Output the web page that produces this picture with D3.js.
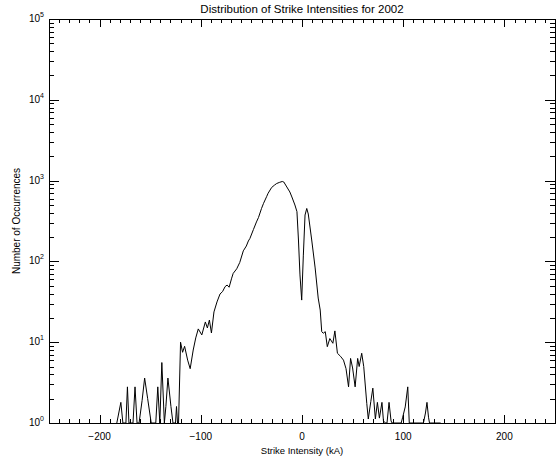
<!DOCTYPE html>
<html>
<head>
<meta charset="utf-8">
<script src="https://cdn.jsdelivr.net/npm/d3@7.9.0/dist/d3.min.js"></script>
<style>
  body { margin: 0; background: #fff; }
  svg { display: block; }
  text { font-family: "Liberation Sans", Arial, sans-serif; fill: #000; }
</style>
</head>
<body>
<svg width="560" height="458"></svg>
<script>
const title = 'Distribution of Strike Intensities for 2002';
const xLabel = 'Strike Intensity (kA)';
const yLabel = 'Number of Occurrences';

const xDomain = [-250, 250];
const yDomain = [1, 1e5];
const xTicks = [-200, -100, 0, 100, 200];
const yExponents = [0, 1, 2, 3, 4, 5];

// histogram (kA, count); zero bins sit on the axis at 1
const intensity = [
  -183, -179, -177, -174, -172.5, -171, -167, -165, -163, -161,
  -158, -155.5, -152.5, -149, -144.5, -142.5, -140.5, -138.5, -136, -134.5,
  -132.5, -129.5, -127.5, -125, -124, -123, -122, -120, -118, -116,
  -113, -110.5, -107.5, -105, -102.5, -99, -95.5, -93.5, -91.5, -89.5,
  -87, -84, -81, -78.5, -76, -74, -72, -69.5, -68, -64.5,
  -61.5, -58, -55, -53, -51.5, -48, -45, -43, -40, -38,
  -35, -33.5, -30, -27, -25, -22, -19.5, -18, -15, -12,
  -10, -7, -5, -3.5, -2, -0.3, 1.3, 3, 4.7, 6.2,
  9.6, 13, 16, 18, 19.5, 21, 23, 25, 27.5, 30.5,
  32.5, 35, 38, 41, 43.5, 46, 48, 50, 52.5, 55,
  56.5, 59, 61, 64, 65.5, 68, 70, 72.5, 74.5, 76.5,
  79, 80.5, 82.5, 84, 86, 88, 89, 98, 99.5, 102,
  104.5, 106, 120, 122, 123.5, 125, 126, 137
];
const occurrences = [
  1, 1.8, 1, 1, 2.8, 1, 1, 2.8, 1, 1,
  1.9, 3.6, 2, 1, 1, 2.8, 1, 5.6, 1, 1.6,
  3.6, 1.6, 1, 1, 1.6, 1, 1, 10, 7.5, 8.9,
  6, 4.7, 8, 11.3, 14.6, 12.3, 17.8, 15, 18.8, 13,
  23.7, 31.5, 39.5, 42.3, 48.7, 51, 47.9, 62, 71, 81,
  97, 135, 155, 179, 192, 248, 308, 349, 452, 523,
  632, 697, 822, 883, 921, 953, 975, 961, 834, 723,
  627, 499, 413, 184, 68, 33.2, 117, 375, 452, 386,
  184, 83, 35.2, 25, 13.5, 12.9, 13.5, 8.8, 11.1, 9.7,
  13.8, 7.3, 6.7, 6, 4.7, 2.8, 6.3, 4.8, 2.8, 6.3,
  5, 7.3, 5, 1.75, 1.12, 1.85, 2.7, 1.12, 1.8, 1.15,
  1.8, 1.06, 1, 1, 1.8, 1.06, 1, 1, 1.18, 1.58,
  2.8, 1, 1, 1.33, 1.8, 1.18, 1, 1
];

const width = 560, height = 458;
const margin = { top: 19, right: 5, bottom: 35, left: 49 };
const innerW = width - margin.left - margin.right;
const innerH = height - margin.top - margin.bottom;

const svg = d3.select('svg');
const g = svg.append('g').attr('transform', `translate(${margin.left},${margin.top})`);

const x = d3.scaleLinear().domain(xDomain).range([0, innerW]);
const y = d3.scaleLog().domain(yDomain).range([innerH, 0]);

// frame
g.append('rect')
  .attr('x', 0.5).attr('y', 0.5)
  .attr('width', innerW).attr('height', innerH)
  .attr('fill', 'none').attr('stroke', '#000').attr('stroke-width', 1);

// ticks on all four sides, pointing inward
const xMinor = d3.range(xDomain[0] + 10, xDomain[1], 10).filter(v => !xTicks.includes(v));
const yMinor = [];
yExponents.slice(0, -1).forEach(e => {
  for (let m = 2; m <= 9; m++) yMinor.push(m * Math.pow(10, e));
});
const yMajor = yExponents.map(e => Math.pow(10, e));

const xTickLen = 8, yTickLen = 10;

function xTick(v, len) {
  const px = Math.round(x(v)) + 0.5;
  g.append('line').attr('x1', px).attr('x2', px).attr('y1', innerH).attr('y2', innerH - len)
    .attr('stroke', '#000');
  g.append('line').attr('x1', px).attr('x2', px).attr('y1', 0).attr('y2', len)
    .attr('stroke', '#000');
}
xMinor.forEach(v => xTick(v, xTickLen / 2));
xTicks.forEach(v => xTick(v, xTickLen));

function yTick(v, len) {
  const py = Math.round(y(v)) + 0.5;
  g.append('line').attr('x1', 0).attr('x2', len).attr('y1', py).attr('y2', py)
    .attr('stroke', '#000');
  g.append('line').attr('x1', innerW).attr('x2', innerW - len).attr('y1', py).attr('y2', py)
    .attr('stroke', '#000');
}
yMinor.forEach(v => yTick(v, yTickLen / 2));
yMajor.forEach(v => yTick(v, yTickLen));

// x tick labels
g.selectAll('.xlab')
  .data(xTicks)
  .join('text')
  .attr('class', 'xlab')
  .attr('x', d => x(d))
  .attr('y', innerH + 17)
  .attr('text-anchor', 'middle')
  .attr('font-size', 10)
  .text(d => d === 0 ? '0' : (d < 0 ? '\u2212' + Math.abs(d) : d));

// y tick labels: 10 with superscript exponent
yExponents.forEach(e => {
  const t = g.append('text')
    .attr('x', -5)
    .attr('y', y(Math.pow(10, e)) + 3)
    .attr('text-anchor', 'end')
    .attr('font-size', 10);
  t.append('tspan').text('10');
  t.append('tspan').attr('dy', -5).attr('font-size', 7).text(e);
});

// data line
const line = d3.line()
  .x((d, i) => x(intensity[i]))
  .y(d => y(d));

g.append('path')
  .datum(occurrences)
  .attr('d', line)
  .attr('fill', 'none')
  .attr('stroke', '#000')
  .attr('stroke-width', 1);

// titles
svg.append('text')
  .attr('x', margin.left + innerW / 2)
  .attr('y', 13)
  .attr('text-anchor', 'middle')
  .attr('font-size', 11.5)
  .text(title);

svg.append('text')
  .attr('x', margin.left + innerW / 2)
  .attr('y', height - 4)
  .attr('text-anchor', 'middle')
  .attr('font-size', 9.5)
  .text(xLabel);

svg.append('text')
  .attr('transform', `translate(20,${margin.top + innerH / 2}) rotate(-90)`)
  .attr('text-anchor', 'middle')
  .attr('font-size', 10)
  .text(yLabel);
</script>
</body>
</html>
